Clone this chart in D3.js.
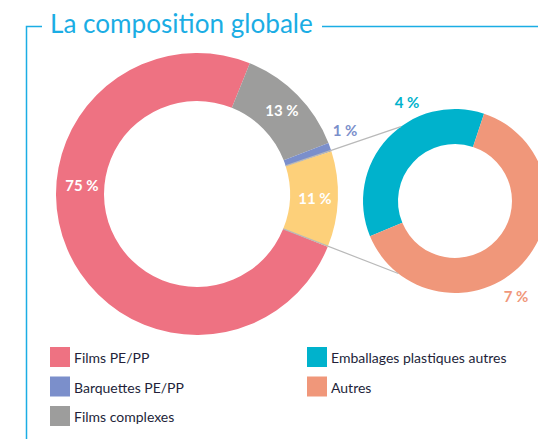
<!DOCTYPE html>
<html><head><meta charset="utf-8">
<script src="https://cdn.jsdelivr.net/npm/d3@7"></script>
<style>body{margin:0;background:#fff}svg{display:block}</style>
</head><body>
<svg id="c" width="538" height="439"></svg>
<script>
const title = "La composition globale";
const mainCategories = ["Films PE/PP", "Films complexes", "Barquettes PE/PP", "Emballages plastiques"];
const mainValues = [75, 13, 1, 11];
const mainLabels = ["75 %", "13 %", "1 %", "11 %"];
const mainColors = ["#ee7282", "#9d9d9c", "#7b8fcb", "#fdd07a"];
const subCategories = ["Emballages plastiques autres", "Autres"];
const subValues = [4, 7];
const subLabels = ["4 %", "7 %"];
const subColors = ["#00b2cc", "#f0977a"];
const legendLeft = ["Films PE/PP", "Barquettes PE/PP", "Films complexes"];
const legendLeftColors = ["#ee7282", "#7b8fcb", "#9d9d9c"];
const legendRight = ["Emballages plastiques autres", "Autres"];
const legendRightColors = ["#00b2cc", "#f0977a"];

const svg = d3.select("#c");
const blue = "#1badE4";
const font = "Lato, 'Open Sans', sans-serif";
const deg = Math.PI / 180;

// frame
svg.append("path").attr("d", "M26.5,439 V26.5 H42").attr("fill", "none").attr("stroke", blue).attr("stroke-width", 1.5);
const t = svg.append("text").attr("x", 50).attr("y", 33).attr("font-family", font).attr("font-size", 26)
  .attr("fill", blue).text(title);
const tw = t.node().getComputedTextLength();
t.attr("font-size", 26 * 263 / tw);
svg.append("line").attr("x1", 322).attr("x2", 538).attr("y1", 26.5).attr("y2", 26.5).attr("stroke", blue).attr("stroke-width", 1.5);

// main donut
const mc = [197, 194], mR = 141, mr = 93;
const mainStart = 112 * deg;
const pie1 = d3.pie().sort(null).startAngle(mainStart).endAngle(mainStart + 2 * Math.PI);
const arcs1 = pie1(mainValues);
const arc1 = d3.arc().innerRadius(mr).outerRadius(mR);
const g1 = svg.append("g").attr("transform", `translate(${mc})`);
g1.selectAll("path").data(arcs1).join("path").attr("d", arc1).attr("fill", (d, i) => mainColors[i]);

// sub donut
const sc = [455, 201], sR = 92, sr = 57;
const subStart = 247.5 * deg;
const pie2 = d3.pie().sort(null).startAngle(subStart).endAngle(subStart + 2 * Math.PI);
const arcs2 = pie2(subValues);
const arc2 = d3.arc().innerRadius(sr).outerRadius(sR);
const g2 = svg.append("g").attr("transform", `translate(${sc})`);
g2.selectAll("path").data(arcs2).join("path").attr("d", arc2).attr("fill", (d, i) => subColors[i]);

// connector lines
const yellow = arcs1[3];
function pt(c, r, a) { return [c[0] + r * Math.sin(a), c[1] - r * Math.cos(a)]; }
const p1 = pt(mc, mr, yellow.startAngle), q1 = pt(sc, sR, -36 * deg);
const p2 = pt(mc, mr, yellow.endAngle), q2 = pt(sc, sR, 218 * deg);
[[p1, q1], [p2, q2]].forEach(([p, q]) => {
  svg.append("line").attr("x1", p[0]).attr("y1", p[1]).attr("x2", q[0]).attr("y2", q[1])
    .attr("stroke", "#b9b9b9").attr("stroke-width", 1.2);
});

// labels main
const labelPos1 = [[82, 191], [282, 116], [345, 136], [315, 204]];
const labelCol1 = ["#fff", "#fff", "#7b8fcb", "#fff"];
svg.selectAll("text.ml").data(mainLabels).join("text").attr("class", "ml")
  .attr("x", (d, i) => labelPos1[i][0]).attr("y", (d, i) => labelPos1[i][1])
  .attr("text-anchor", "middle").attr("font-family", font).attr("font-weight", 700).attr("font-size", 15)
  .attr("fill", (d, i) => labelCol1[i]).text(d => d);
const labelPos2 = [[407, 108], [516, 302]];
svg.selectAll("text.sl").data(subLabels).join("text").attr("class", "sl")
  .attr("x", (d, i) => labelPos2[i][0]).attr("y", (d, i) => labelPos2[i][1])
  .attr("text-anchor", "middle").attr("font-family", font).attr("font-weight", 700).attr("font-size", 15)
  .attr("fill", (d, i) => subColors[i]).text(d => d);

// legend
function legend(items, colors, x, y0) {
  const g = svg.append("g");
  items.forEach((name, i) => {
    const y = y0 + i * 29.5;
    g.append("rect").attr("x", x).attr("y", y).attr("width", 20).attr("height", 20).attr("fill", colors[i]);
    g.append("text").attr("x", x + 24).attr("y", y + 16).attr("font-family", font).attr("font-size", 14)
      .attr("fill", "#231f3a").text(name);
  });
}
legend(legendLeft, legendLeftColors, 50, 347);
legend(legendRight, legendRightColors, 307, 347);
</script>
</body></html>
